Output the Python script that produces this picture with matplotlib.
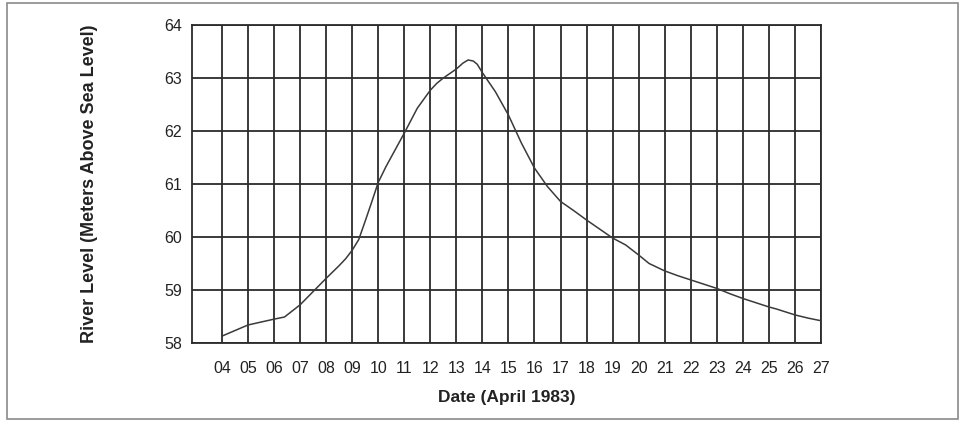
"""River level hydrograph for April 1983, drawn on a ruled grid."""

import matplotlib.pyplot as plt
from matplotlib.patches import Rectangle

plt.rcParams["font.family"] = ["Liberation Sans", "DejaVu Sans"]

# Daily readings, with extra readings between days where the trace bends.
days = [4, 5, 6, 6.4, 7, 8, 8.5, 8.75, 9, 9.25, 9.5, 9.75, 10, 10.3, 11,
        11.5, 12, 12.25, 12.5, 13, 13.25, 13.45, 13.65, 13.8, 14, 14.5, 15,
        15.5, 16, 16.5, 17, 17.5, 18, 18.5, 19, 19.5, 20, 20.4, 21, 21.5, 22,
        22.5, 23, 23.5, 24, 24.5, 25, 25.3, 26, 26.5, 27]
level_m = [58.13, 58.34, 58.45, 58.49, 58.72, 59.22, 59.46, 59.59, 59.75,
           59.95, 60.30, 60.66, 61.03, 61.33, 61.96, 62.43, 62.77, 62.90,
           63.00, 63.17, 63.28, 63.34, 63.32, 63.26, 63.10, 62.74, 62.30,
           61.77, 61.30, 60.95, 60.67, 60.50, 60.32, 60.15, 59.98, 59.85,
           59.66, 59.50, 59.36, 59.27, 59.19, 59.11, 59.03, 58.93, 58.84,
           58.76, 58.68, 58.64, 58.53, 58.47, 58.42]

tick_days = list(range(4, 28))
tick_labels = [f"{d:02d}" for d in tick_days]
level_ticks = list(range(58, 65))

fig = plt.figure(figsize=(9.65, 4.21), dpi=100)
ax = fig.add_axes([192 / 965, 78 / 421, 629 / 965, 318 / 421])

grid_color = "#2b2b2b"
ax.plot(days, level_m, color="#3a3a3a", linewidth=1.1, solid_joinstyle="round",
        zorder=3)

ax.set_xlim(2.85, 27)
ax.set_ylim(58, 64)
ax.set_xticks(tick_days)
ax.set_xticklabels(tick_labels)
ax.set_yticks(level_ticks)
ax.tick_params(axis="both", length=0, labelsize=11.5, colors="#222222")
ax.tick_params(axis="x", pad=13)
ax.tick_params(axis="y", pad=7)

ax.grid(True, color=grid_color, linewidth=1.3)
ax.set_axisbelow(True)
for side in ax.spines.values():
    side.set_color(grid_color)
    side.set_linewidth(1.3)

ax.set_xlabel("Date (April 1983)", fontsize=12.5, fontweight="bold",
              color="#222222", labelpad=10)
ax.set_ylabel("River Level (Meters Above Sea Level)", fontsize=13,
              fontweight="bold", color="#222222")
ax.yaxis.set_label_coords(-0.150, 0.5)

# Thin frame around the whole figure.
fig.patches.append(Rectangle((7 / 965, 2 / 421), 951 / 965, 416 / 421,
                             transform=fig.transFigure, fill=False,
                             edgecolor="#8a8a8a", linewidth=1.2))

fig.savefig("out.png", dpi=100)
